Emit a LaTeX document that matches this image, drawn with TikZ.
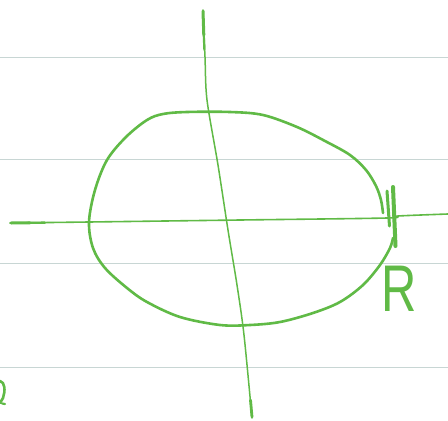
\documentclass[tikz,border=0pt]{standalone}
\usepackage{fontspec}
\setsansfont{Liberation Sans}
\definecolor{pen}{RGB}{96,186,70}
\definecolor{rule}{RGB}{200,214,212}
\tikzset{
  ruling/.style={draw=rule, line width=1pt},
  ink/.style={draw=pen, line cap=round, line join=round},
}
\begin{document}
\begin{tikzpicture}[x=1pt,y=-1pt]
\useasboundingbox[fill=white] (0,0) rectangle (448,421);
% ruled lines
\foreach \yy in {57,159.5,263.5,367} \draw[ruling] (0,\yy) -- (448,\yy);
% horizontal axis
\draw[ink, line width=1.6pt] plot[smooth] coordinates {(10,223) (89,222) (240,220) (387,218) (398,216) (448,214)};
\draw[ink, line width=3pt] (11,223) -- (30,222.8);
\draw[ink, line width=2.3pt] (28,222.8) -- (45,222.6);
% vertical axis
\draw[ink, line width=1.5pt] plot[smooth] coordinates {(203,10) (205,57) (207,100) (218,165) (228,230) (237,285) (244,335) (252,418)};
\draw[ink, line width=3pt] (203,11) -- (203.8,35);
\draw[ink, line width=2.2pt] (203.7,33) -- (204.4,50);
\draw[ink, line width=2.8pt] (250.5,400) -- (252,417);
% egg curve
\draw[ink, line width=2.6pt] plot[smooth, tension=0.55] coordinates {
  (383,213) (381,200) (376,186) (366,170) (350,155) (325,141) (297,127) (263,115) (230,112)
  (187,112) (163,114) (147,120) (126,137) (107,160) (95,190) (89,222)
  (93,248) (105,268) (127,288) (147,302) (180,317) (220,325) (250,325) (280,322)
  (313,313) (340,302) (363,285) (380,265) (390,248) (393,238)};
% marks at R
\draw[ink, line width=3pt] (387,191) -- (389.5,226);
\draw[ink, line width=4pt] (393,187) -- (395.5,246);
% label R
\node[text=pen, font=\sffamily\fontsize{66}{66}\selectfont, xscale=0.74, inner sep=0pt] (lbl) at (399,288.5) {R};
% cut-off glyph at bottom left
\draw[ink, line width=2.6pt] (0,381) .. controls (5,382) and (5.5,391) .. (3,398) .. controls (2,401) .. (0,403);
\draw[ink, line width=2.2pt] (2,403.5) -- (5,404);
\end{tikzpicture}
\end{document}
